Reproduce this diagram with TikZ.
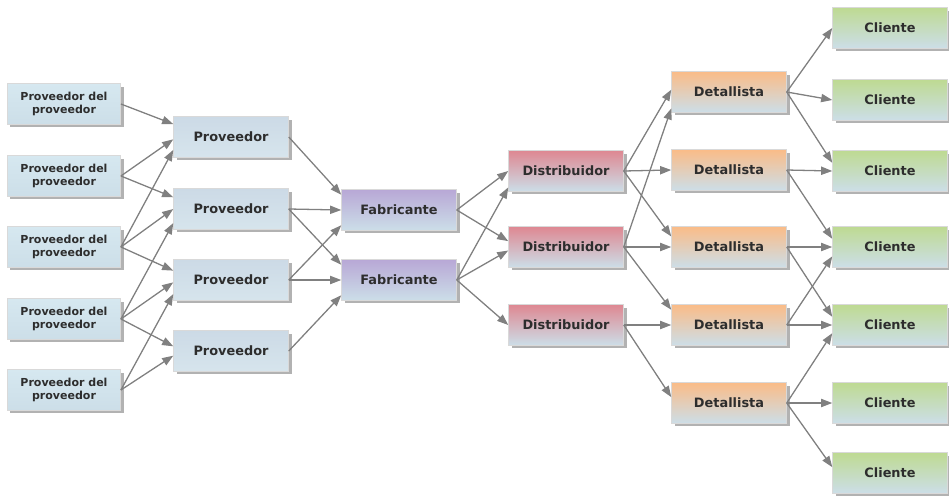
\documentclass[tikz,border=0pt]{standalone}
\usepackage{fontspec}
\setmainfont{DejaVu Sans}
\usetikzlibrary{arrows.meta, shadows}

\definecolor{boxbase}{RGB}{204,222,232}
\definecolor{pptop}{RGB}{214,232,240}
\definecolor{provtop}{RGB}{204,218,230}
\definecolor{fabtop}{RGB}{184,168,214}
\definecolor{disttop}{RGB}{222,136,146}
\definecolor{dettop}{RGB}{250,188,136}
\definecolor{clitop}{RGB}{190,218,146}
\definecolor{flowgray}{RGB}{128,128,128}
\definecolor{textgray}{RGB}{45,45,45}

\begin{document}
\begin{tikzpicture}[
    x=0.03cm, y=-0.03cm,
    box/.style={rectangle, draw=gray!30, minimum width=3.45cm, minimum height=1.22cm, inner sep=0pt, align=center, text=textgray, font=\bfseries\fontsize{11}{13}\selectfont, drop shadow={shadow xshift=2.6pt, shadow yshift=-2.6pt, fill=black!60}},
    ppbox/.style={box, minimum width=3.4cm, top color=pptop, bottom color=boxbase, font=\bfseries\fontsize{9.4}{11.5}\selectfont},
    provbox/.style={box, top color=provtop, bottom color=boxbase!80!white},
    fabbox/.style={box, top color=fabtop, bottom color=boxbase},
    distbox/.style={box, top color=disttop, bottom color=boxbase},
    detbox/.style={box, top color=dettop, bottom color=boxbase},
    clibox/.style={box, top color=clitop, bottom color=boxbase},
    flow/.style={-{Triangle[length=9.5pt, width=7pt]}, line width=1.1pt, draw=flowgray, fill=flowgray}
]
\useasboundingbox (0,0) rectangle (949,497);

% Proveedores de los proveedores
\node[ppbox] (pp1) at (64,104) {Proveedor del\\proveedor};
\node[ppbox] (pp2) at (64,176) {Proveedor del\\proveedor};
\node[ppbox] (pp3) at (64,247) {Proveedor del\\proveedor};
\node[ppbox] (pp4) at (64,319) {Proveedor del\\proveedor};
\node[ppbox] (pp5) at (64,390) {Proveedor del\\proveedor};

% Proveedores
\node[provbox] (p1) at (231,137) {Proveedor};
\node[provbox] (p2) at (231,209) {Proveedor};
\node[provbox] (p3) at (231,280) {Proveedor};
\node[provbox] (p4) at (231,351) {Proveedor};

% Fabricantes
\node[fabbox] (f1) at (399,210) {Fabricante};
\node[fabbox] (f2) at (399,280) {Fabricante};

% Distribuidores
\node[distbox] (d1) at (566,171) {Distribuidor};
\node[distbox] (d2) at (566,247) {Distribuidor};
\node[distbox] (d3) at (566,325) {Distribuidor};

% Detallistas
\node[detbox] (t1) at (729,92) {Detallista};
\node[detbox] (t2) at (729,170) {Detallista};
\node[detbox] (t3) at (729,247) {Detallista};
\node[detbox] (t4) at (729,325) {Detallista};
\node[detbox] (t5) at (729,403) {Detallista};

% Clientes
\node[clibox] (c1) at (890,28) {Cliente};
\node[clibox] (c2) at (890,100) {Cliente};
\node[clibox] (c3) at (890,171) {Cliente};
\node[clibox] (c4) at (890,247) {Cliente};
\node[clibox] (c5) at (890,325) {Cliente};
\node[clibox] (c6) at (890,403) {Cliente};
\node[clibox] (c7) at (890,473) {Cliente};

% Proveedor del proveedor -> Proveedor
\draw[flow] (pp1.east) -- ([yshift=11pt]p1.west);
\draw[flow] (pp2.east) -- ([yshift=-2pt]p1.west);
\draw[flow] (pp3.east) -- ([yshift=-11pt]p1.west);
\draw[flow] (pp2.east) -- ([yshift=10pt]p2.west);
\draw[flow] (pp3.east) -- (p2.west);
\draw[flow] (pp4.east) -- ([yshift=-12pt]p2.west);
\draw[flow] (pp3.east) -- ([yshift=8pt]p3.west);
\draw[flow] (pp4.east) -- ([yshift=-2pt]p3.west);
\draw[flow] (pp5.east) -- ([yshift=-12pt]p3.west);
\draw[flow] (pp4.east) -- ([yshift=4pt]p4.west);
\draw[flow] (pp5.east) -- ([yshift=-4pt]p4.west);

% Proveedor -> Fabricante
\draw[flow] (p1.east) -- ([yshift=13pt]f1.west);
\draw[flow] (p2.east) -- (f1.west);
\draw[flow] (p3.east) -- ([yshift=-13pt]f1.west);
\draw[flow] (p2.east) -- ([yshift=13pt]f2.west);
\draw[flow] (p3.east) -- (f2.west);
\draw[flow] (p4.east) -- ([yshift=-13pt]f2.west);

% Fabricante -> Distribuidor
\draw[flow] (f1.east) -- (d1.west);
\draw[flow] (f2.east) -- ([yshift=-14pt]d1.west);
\draw[flow] (f1.east) -- ([yshift=5pt]d2.west);
\draw[flow] (f2.east) -- ([yshift=-3pt]d2.west);
\draw[flow] (f2.east) -- (d3.west);

% Distribuidor -> Detallista
\draw[flow] (d1.east) -- ([yshift=2pt]t1.west);
\draw[flow] (d2.east) -- ([yshift=-14pt]t1.west);
\draw[flow] (d1.east) -- (t2.west);
\draw[flow] (d1.east) -- ([yshift=9pt]t3.west);
\draw[flow] (d2.east) -- (t3.west);
\draw[flow] (d2.east) -- ([yshift=13pt]t4.west);
\draw[flow] (d3.east) -- (t4.west);
\draw[flow] (d3.east) -- ([yshift=5pt]t5.west);

% Detallista -> Cliente
\draw[flow] (t1.east) -- (c1.west);
\draw[flow] (t1.east) -- (c2.west);
\draw[flow] (t1.east) -- ([yshift=7pt]c3.west);
\draw[flow] (t2.east) -- (c3.west);
\draw[flow] (t2.east) -- ([yshift=7pt]c4.west);
\draw[flow] (t3.east) -- (c4.west);
\draw[flow] (t4.east) -- ([yshift=-8pt]c4.west);
\draw[flow] (t3.east) -- ([yshift=7pt]c5.west);
\draw[flow] (t4.east) -- (c5.west);
\draw[flow] (t5.east) -- ([yshift=-7pt]c5.west);
\draw[flow] (t5.east) -- (c6.west);
\draw[flow] (t5.east) -- ([yshift=5pt]c7.west);

\end{tikzpicture}
\end{document}
